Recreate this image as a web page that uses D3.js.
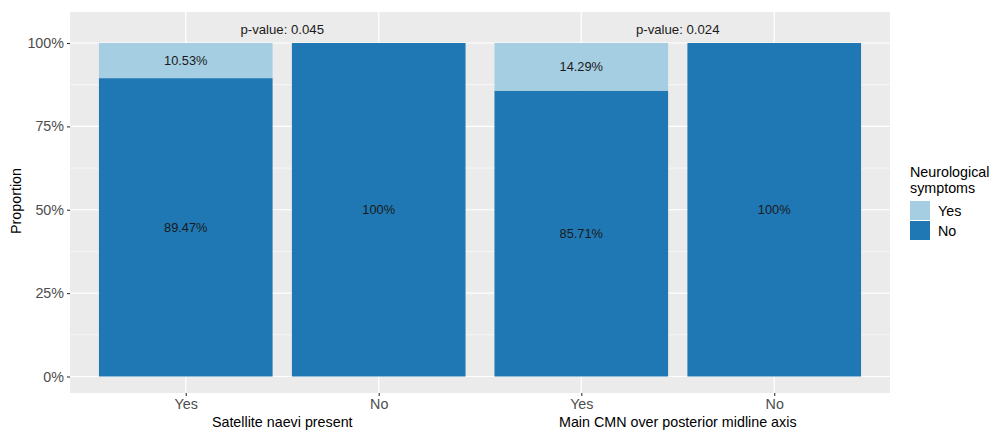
<!DOCTYPE html>
<html>
<head>
<meta charset="utf-8">
<script src="https://cdn.jsdelivr.net/npm/d3@7"></script>
<style>
  body { margin: 0; background: #fff; }
  svg { display: block; font-family: "Liberation Sans", Arial, sans-serif; }
</style>
</head>
<body>
<svg id="chart" width="989" height="431"></svg>
<script>
// Bar categories and the grouping each bar belongs to
const categories = ["Yes", "No", "Yes", "No"];
const groupOf = [0, 0, 1, 1];
const groupTitles = ["Satellite naevi present", "Main CMN over posterior midline axis"];
// Proportion with / without neurological symptoms per bar
const yesValues = [0.1053, 0, 0.1429, 0];
const noValues = [0.8947, 1, 0.8571, 1];
const yesLabels = ["10.53%", "", "14.29%", ""];
const noLabels = ["89.47%", "100%", "85.71%", "100%"];
// Fisher test p-values for each grouping
const pValues = ["0.045", "0.024"];
const yTicks = [0, 0.25, 0.5, 0.75, 1];
const yMinor = [0.125, 0.375, 0.625, 0.875];
const legendKeys = ["Yes", "No"];
const colors = { Yes: "#a6cee3", No: "#1f78b4" };

const svg = d3.select("#chart");
const panel = { left: 70, right: 890, top: 12, bottom: 393 };
const groupGap = 0.05;
const pos = categories.map((c, i) => i + 1 + groupOf[i] * groupGap);

const x = d3.scaleLinear().domain([0.4, 4.6 + groupGap]).range([panel.left, panel.right]);
const y = d3.scaleLinear().domain([-0.0495, 1.093]).range([panel.bottom, panel.top]);
const barW = 0.9;
const axisFont = 14.3;

// panel background
svg.append("rect")
  .attr("x", panel.left).attr("y", panel.top)
  .attr("width", panel.right - panel.left).attr("height", panel.bottom - panel.top)
  .attr("fill", "#ebebeb");

const grid = svg.append("g");
yMinor.forEach(v => grid.append("line")
  .attr("x1", panel.left).attr("x2", panel.right)
  .attr("y1", y(v)).attr("y2", y(v))
  .attr("stroke", "#fff").attr("stroke-width", 0.6));
yTicks.forEach(v => grid.append("line")
  .attr("x1", panel.left).attr("x2", panel.right)
  .attr("y1", y(v)).attr("y2", y(v))
  .attr("stroke", "#fff").attr("stroke-width", 1.2));
pos.forEach(p => grid.append("line")
  .attr("x1", x(p)).attr("x2", x(p))
  .attr("y1", panel.top).attr("y2", panel.bottom)
  .attr("stroke", "#fff").attr("stroke-width", 1.2));

// stacked bars: "No" at the bottom, "Yes" stacked above
const bars = svg.append("g");
categories.forEach((c, i) => {
  const x0 = x(pos[i] - barW / 2), x1 = x(pos[i] + barW / 2);
  bars.append("rect")
    .attr("x", x0).attr("width", x1 - x0)
    .attr("y", y(noValues[i])).attr("height", y(0) - y(noValues[i]))
    .attr("fill", colors.No);
  if (yesValues[i] > 0) {
    const top = noValues[i] + yesValues[i];
    bars.append("rect")
      .attr("x", x0).attr("width", x1 - x0)
      .attr("y", y(top)).attr("height", y(noValues[i]) - y(top))
      .attr("fill", colors.Yes);
  }
});

// value labels centred in each segment
const labels = svg.append("g").attr("font-size", 12.8).attr("fill", "#1a1a1a").attr("text-anchor", "middle");
categories.forEach((c, i) => {
  labels.append("text").attr("x", x(pos[i])).attr("y", y(noValues[i] / 2))
    .attr("dy", "0.35em").text(noLabels[i]);
  if (yesLabels[i]) {
    labels.append("text").attr("x", x(pos[i])).attr("y", y(noValues[i] + yesValues[i] / 2))
      .attr("dy", "0.35em").text(yesLabels[i]);
  }
});

// p-value annotations between each pair of bars
pValues.forEach((p, g) => {
  const mid = (pos[2 * g] + pos[2 * g + 1]) / 2;
  labels.append("text").attr("x", x(mid)).attr("y", y(1.04))
    .attr("dy", "0.35em").attr("font-size", 13.2).text("p-value: " + p);
});

// y axis
const yAxis = svg.append("g").attr("transform", `translate(${panel.left},0)`)
  .call(d3.axisLeft(y).tickValues(yTicks).tickFormat(d => Math.round(d * 100) + "%").tickSize(3).tickPadding(3));
yAxis.select(".domain").remove();
yAxis.selectAll(".tick line").attr("stroke", "#333").attr("stroke-width", 1.1);
yAxis.selectAll(".tick text").attr("fill", "#4d4d4d").attr("font-size", axisFont)
  .attr("font-family", "Liberation Sans, Arial, sans-serif");

// x axis
const xAxis = svg.append("g").attr("transform", `translate(0,${panel.bottom})`)
  .call(d3.axisBottom(x).tickValues(pos).tickFormat((d, i) => categories[i]).tickSize(3).tickPadding(3));
xAxis.select(".domain").remove();
xAxis.selectAll(".tick line").attr("stroke", "#333").attr("stroke-width", 1.1);
xAxis.selectAll(".tick text").attr("fill", "#4d4d4d").attr("font-size", axisFont)
  .attr("font-family", "Liberation Sans, Arial, sans-serif");

// group titles under each pair
groupTitles.forEach((t, g) => {
  const mid = (pos[2 * g] + pos[2 * g + 1]) / 2;
  svg.append("text").attr("x", x(mid)).attr("y", 427)
    .attr("text-anchor", "middle").attr("font-size", axisFont).attr("fill", "#000").text(t);
});

// y axis title
svg.append("text").attr("transform", "translate(21,201) rotate(-90)")
  .attr("text-anchor", "middle").attr("font-size", axisFont).attr("fill", "#000").text("Proportion");

// legend
const legend = svg.append("g").attr("transform", "translate(910,0)");
legend.append("text").attr("x", 0).attr("y", 177).attr("font-size", axisFont).text("Neurological");
legend.append("text").attr("x", 0).attr("y", 193).attr("font-size", axisFont).text("symptoms");
legendKeys.forEach((k, i) => {
  legend.append("rect").attr("x", 0).attr("y", 201 + i * 20).attr("width", 20).attr("height", 19)
    .attr("fill", colors[k]);
  legend.append("text").attr("x", 28).attr("y", 211 + i * 20).attr("dy", "0.35em")
    .attr("font-size", axisFont).text(k);
});
</script>
</body>
</html>
